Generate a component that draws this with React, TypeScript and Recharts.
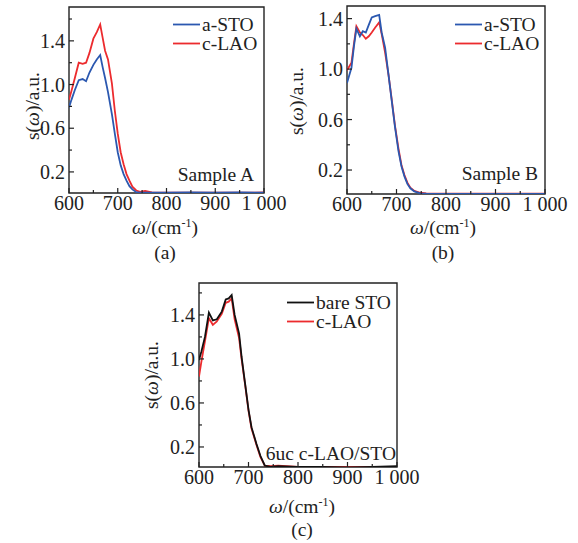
import React from 'react';
import { LineChart, Line, XAxis, YAxis, ReferenceArea, Legend, Label } from 'recharts';

const FONT = '"Liberation Serif", "Times New Roman", serif';
const INK = '#222';
const BLUE = '#2b58b0';
const RED = '#ec2b2e';
const BLACK = '#111';
const FS = 19.5;

// x ticks (cm^-1)
const xTicks = [600, 650, 700, 750, 800, 850, 900, 950, 1000];
const xLabels = [600, 700, 800, 900, 1000];
const yTicksA = [0.2, 0.4, 0.6, 0.8, 1.0, 1.2, 1.4, 1.6];
const yTicksB = [0.2, 0.4, 0.6, 0.8, 1.0, 1.2, 1.4];
const yLabels = [0.2, 0.6, 1.0, 1.4];

// Panel (a) - Sample A
const omegaA = [600, 605, 612, 620, 628, 635, 642, 650, 657, 664, 669, 674, 680, 688, 694, 700, 706, 712, 718, 724, 730, 738, 746, 756, 770, 800, 850, 900, 950, 1000];
const aStoA = [0.79, 0.86, 0.95, 1.04, 1.05, 1.03, 1.11, 1.18, 1.23, 1.27, 1.16, 1.06, 0.93, 0.73, 0.55, 0.38, 0.26, 0.18, 0.12, 0.07, 0.04, 0.015, 0.01, 0.01, 0.01, 0.01, 0.012, 0.01, 0.012, 0.01];
const cLaoA = [0.86, 0.94, 1.06, 1.2, 1.19, 1.2, 1.29, 1.42, 1.48, 1.55, 1.43, 1.31, 1.23, 1.01, 0.76, 0.55, 0.38, 0.27, 0.18, 0.12, 0.065, 0.03, 0.018, 0.025, 0.012, 0.01, 0.01, 0.01, 0.01, 0.012];

// Panel (b) - Sample B
const omegaB = [600, 609, 614, 619, 626, 632, 638, 644, 650, 657, 665, 670, 677, 684, 690, 697, 704, 710, 716, 722, 728, 736, 748, 760, 800, 850, 900, 950, 1000];
const aStoB = [0.89, 1.01, 1.18, 1.32, 1.26, 1.3, 1.29, 1.35, 1.41, 1.42, 1.43, 1.29, 1.17, 0.95, 0.76, 0.54, 0.35, 0.23, 0.15, 0.09, 0.055, 0.03, 0.015, 0.012, 0.01, 0.01, 0.01, 0.01, 0.01];
const cLaoB = [0.99, 1.05, 1.2, 1.34, 1.29, 1.27, 1.24, 1.26, 1.29, 1.33, 1.37, 1.28, 1.13, 0.95, 0.77, 0.55, 0.37, 0.24, 0.16, 0.1, 0.06, 0.035, 0.02, 0.015, 0.012, 0.012, 0.012, 0.012, 0.012];

// Panel (c) - 6uc c-LAO/STO
const omegaC = [600, 605, 612, 620, 628, 636, 646, 654, 660, 666, 672, 681, 686, 693, 700, 706, 716, 724, 733, 745, 760, 800, 850, 900, 950, 1000];
const bareStoC = [0.99, 1.07, 1.2, 1.42, 1.35, 1.36, 1.43, 1.54, 1.55, 1.58, 1.4, 1.23, 1.02, 0.78, 0.54, 0.38, 0.23, 0.12, 0.03, 0.02, 0.025, 0.02, 0.02, 0.015, 0.02, 0.025];
const cLaoC = [0.84, 0.98, 1.16, 1.37, 1.31, 1.34, 1.41, 1.51, 1.52, 1.55, 1.36, 1.19, 1.0, 0.77, 0.53, 0.37, 0.22, 0.11, 0.03, 0.025, 0.03, 0.02, 0.02, 0.02, 0.02, 0.02];

const build = (w: number[], s1: number[], s2: number[]) => w.map((v, i) => ({ w: v, s1: s1[i], s2: s2[i] }));

const XTick = (props: any) => {
  const { x, y, payload } = props;
  const v = payload.value;
  const major = xLabels.includes(v);
  return (
    <g>
      <line x1={x} x2={x} y1={y} y2={y - (major ? 5 : 3)} stroke={INK} strokeWidth={1.2} />
      {major && (
        <text x={x} y={y + 17} textAnchor="middle" fontFamily={FONT} fontSize={20} fill={INK}>
          {v === 1000 ? '1 000' : String(v)}
        </text>
      )}
    </g>
  );
};

const YTick = (props: any) => {
  const { x, y, payload } = props;
  const v = payload.value;
  const major = yLabels.some((l) => Math.abs(l - v) < 1e-6);
  return (
    <g>
      <line x1={x} x2={x + (major ? 5 : 3)} y1={y} y2={y} stroke={INK} strokeWidth={1.2} />
      {major && (
        <text x={x - 4} y={y + 7} textAnchor="end" fontFamily={FONT} fontSize={20} fill={INK}>
          {v.toFixed(1)}
        </text>
      )}
    </g>
  );
};

type PanelProps = {
  left: number;
  top: number;
  width: number;
  height: number;
  margin: { top: number; right: number; bottom: number; left: number };
  yAxisWidth: number;
  yDomain: [number, number];
  yTicks: number[];
  data: { w: number; s1: number; s2: number }[];
  names: [string, string];
  colors: [string, string];
  legendPos: { left: number; top: number };
  note: string;
  notePos: { x: number; y: number };
  yLabelPos: { x: number; y: number };
  xLabelPos: { x: number; y: number };
  caption: string;
  captionY: number;
};

const Panel = (p: PanelProps) => {
  const renderLegend = (props: any) => {
    const payload = [...(props.payload || [])].sort(
      (a: any, b: any) => p.names.indexOf(a.value) - p.names.indexOf(b.value)
    );
    return (
      <div style={{ fontFamily: FONT, fontSize: FS, color: INK, lineHeight: '19px' }}>
        {payload.map((it: any) => (
          <div key={it.value} style={{ display: 'flex', alignItems: 'center', height: 19 }}>
            <svg width={29} height={19} style={{ display: 'block' }}>
              <line x1={0} x2={27} y1={9.5} y2={9.5} stroke={it.color} strokeWidth={1.8} />
            </svg>
            <span style={{ whiteSpace: 'nowrap' }}>{it.value}</span>
          </div>
        ))}
      </div>
    );
  };

  return (
    <div style={{ position: 'absolute', left: p.left, top: p.top }}>
      <LineChart width={p.width} height={p.height} data={p.data} margin={p.margin}>
        <XAxis
          dataKey="w"
          type="number"
          domain={[600, 1000]}
          ticks={xTicks}
          interval={0}
          tickSize={0}
          tickMargin={0}
          tickLine={false}
          axisLine={false}
          height={30}
          tick={<XTick />}
          allowDataOverflow
        >
          <Label
            content={() => (
              <g fontFamily={FONT} fill={INK}>
                <text x={p.xLabelPos.x} y={p.xLabelPos.y} textAnchor="middle" fontSize={FS}>
                  <tspan fontStyle="italic">ω</tspan>/(cm
                  <tspan dy={-7} fontSize={12}>-1</tspan>
                  <tspan dy={7}>)</tspan>
                </text>
                <text x={p.xLabelPos.x} y={p.captionY} textAnchor="middle" fontSize={FS}>
                  {p.caption}
                </text>
              </g>
            )}
          />
        </XAxis>
        <YAxis
          type="number"
          domain={p.yDomain}
          ticks={p.yTicks}
          interval={0}
          width={p.yAxisWidth}
          tickSize={0}
          tickMargin={0}
          tickLine={false}
          axisLine={false}
          tick={<YTick />}
          allowDataOverflow
        >
          <Label
            content={() => (
              <text
                x={p.yLabelPos.x}
                y={p.yLabelPos.y}
                transform={`rotate(-90 ${p.yLabelPos.x} ${p.yLabelPos.y})`}
                textAnchor="middle"
                fontFamily={FONT}
                fontSize={FS}
                fill={INK}
              >
                s(<tspan fontStyle="italic">ω</tspan>)/a.u.
              </text>
            )}
          />
        </YAxis>
        <ReferenceArea
          x1={600}
          x2={1000}
          y1={p.yDomain[0]}
          y2={p.yDomain[1]}
          fill="none"
          stroke={INK}
          strokeWidth={1.4}
          ifOverflow="visible"
          label={() => (
            <text x={p.notePos.x} y={p.notePos.y} textAnchor="end" fontFamily={FONT} fontSize={FS} fill={INK}>
              {p.note}
            </text>
          )}
        />
        <Line
          type="linear"
          dataKey="s2"
          name={p.names[1]}
          stroke={p.colors[1]}
          strokeWidth={1.8}
          dot={false}
          isAnimationActive={false}
        />
        <Line
          type="linear"
          dataKey="s1"
          name={p.names[0]}
          stroke={p.colors[0]}
          strokeWidth={1.8}
          dot={false}
          isAnimationActive={false}
        />
        <Legend
          layout="vertical"
          align="center"
          verticalAlign="middle"
          content={renderLegend}
          wrapperStyle={{ left: p.legendPos.left, top: p.legendPos.top, width: 'auto', height: 'auto' }}
        />
      </LineChart>
    </div>
  );
};

export default function App() {
  return (
    <div style={{ position: 'absolute', left: 0, top: 0, width: 578, height: 543, background: '#fff' }}>
      <Panel
        left={0}
        top={0}
        width={290}
        height={272}
        margin={{ top: 7, right: 26, bottom: 49, left: 0 }}
        yAxisWidth={69}
        yDomain={[0.007, 1.71]}
        yTicks={yTicksA}
        data={build(omegaA, aStoA, cLaoA)}
        names={['a-STO', 'c-LAO']}
        colors={[BLUE, RED]}
        legendPos={{ left: 173, top: 14.5 }}
        note="Sample A"
        notePos={{ x: 254, y: 181 }}
        yLabelPos={{ x: 39, y: 106 }}
        xLabelPos={{ x: 165, y: 234 }}
        caption="(a)"
        captionY={259}
      />
      <Panel
        left={280}
        top={0}
        width={295}
        height={272}
        margin={{ top: 6, right: 30, bottom: 48, left: 0 }}
        yAxisWidth={67}
        yDomain={[0.01, 1.5]}
        yTicks={yTicksB}
        data={build(omegaB, aStoB, cLaoB)}
        names={['a-STO', 'c-LAO']}
        colors={[BLUE, RED]}
        legendPos={{ left: 175, top: 14.5 }}
        note="Sample B"
        notePos={{ x: 258, y: 180 }}
        yLabelPos={{ x: 23, y: 101 }}
        xLabelPos={{ x: 163, y: 234 }}
        caption="(b)"
        captionY={259}
      />
      <Panel
        left={140}
        top={272}
        width={280}
        height={271}
        margin={{ top: 11, right: 23, bottom: 46, left: 0 }}
        yAxisWidth={59}
        yDomain={[0.018, 1.69]}
        yTicks={yTicksA}
        data={build(omegaC, bareStoC, cLaoC)}
        names={['bare STO', 'c-LAO']}
        colors={[BLACK, RED]}
        legendPos={{ left: 147, top: 20.5 }}
        note="6uc c-LAO/STO"
        notePos={{ x: 256, y: 188 }}
        yLabelPos={{ x: 18, y: 103 }}
        xLabelPos={{ x: 162, y: 241 }}
        caption="(c)"
        captionY={264}
      />
    </div>
  );
}
